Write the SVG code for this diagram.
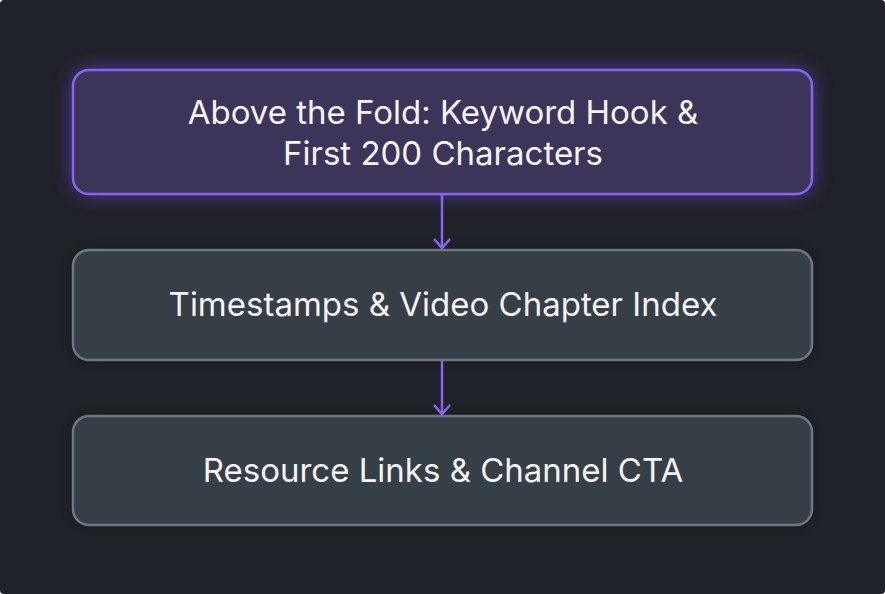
<svg xmlns="http://www.w3.org/2000/svg" width="885" height="594" viewBox="0 0 885 594">
<defs>
<style>
.t{font-family:Inter,"Noto Sans",sans-serif;font-size:33px;fill:#f4f4f7;text-anchor:middle}
.box{fill:#363e46;stroke:#6f7882;stroke-width:2.5}
.hl{fill:#3c3459;stroke:#8b63f0;stroke-width:2.5}
.c{stroke:#8b63f0;stroke-width:2.5;fill:none}
</style>
<filter id="glow" x="-20%" y="-50%" width="140%" height="200%">
<feGaussianBlur stdDeviation="10"/>
</filter>
<filter id="cg" x="-200%" y="-20%" width="500%" height="140%">
<feGaussianBlur stdDeviation="5"/>
</filter>
<filter id="sh" x="-20%" y="-40%" width="140%" height="180%">
<feGaussianBlur stdDeviation="6"/>
</filter>
<marker id="ah" viewBox="0 0 20 20" refX="17" refY="10" markerWidth="20" markerHeight="20" markerUnits="userSpaceOnUse" orient="auto">
<path d="M8 2 L17 10 L8 18" fill="none" stroke="#8b63f0" stroke-width="2.5"/>
</marker>
</defs>
<rect x="0" y="0" width="885" height="594" rx="4" fill="#1f2228"/>
<g id="n1">
<rect x="73" y="70" width="739" height="124" rx="16" fill="#7c4dff" opacity="0.6" filter="url(#glow)"/>
<rect class="hl" x="73" y="70" width="739" height="124" rx="16"/>
<text class="t" x="443" y="124">Above the Fold: Keyword Hook &amp;</text>
<text class="t" x="443" y="165">First 200 Characters</text>
</g>
<g id="n2">
<rect x="73" y="250" width="739" height="110" rx="16" fill="#000" opacity="0.3" filter="url(#sh)"/>
<rect class="box" x="73" y="250" width="739" height="110" rx="16"/>
<text class="t" x="443" y="316">Timestamps &amp; Video Chapter Index</text>
</g>
<g id="n3">
<rect x="73" y="416" width="739" height="109" rx="16" fill="#000" opacity="0.3" filter="url(#sh)"/>
<rect class="box" x="73" y="416" width="739" height="109" rx="16"/>
<text class="t" x="443" y="482">Resource Links &amp; Channel CTA</text>
</g>
<g id="connectors">
<line x1="442" y1="195" x2="442" y2="248" stroke="#7c4dff" stroke-width="8" opacity="0.35" filter="url(#cg)"/>
<line x1="442" y1="361" x2="442" y2="414" stroke="#7c4dff" stroke-width="8" opacity="0.35" filter="url(#cg)"/>
<line class="c" x1="442" y1="195" x2="442" y2="248" marker-end="url(#ah)"/>
<line class="c" x1="442" y1="361" x2="442" y2="414" marker-end="url(#ah)"/>
</g>
</svg>
